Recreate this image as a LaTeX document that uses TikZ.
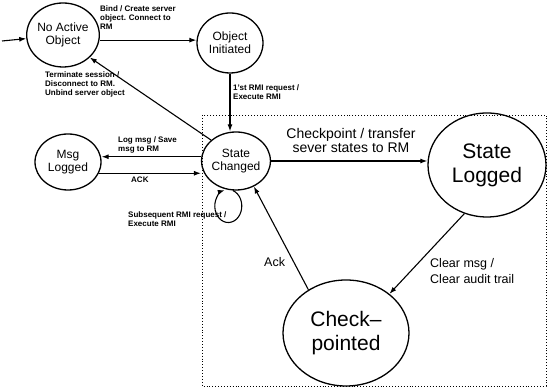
\documentclass[tikz,border=0pt]{standalone}
\usepackage{fontspec}
\setmainfont{Liberation Sans}
\usetikzlibrary{arrows.meta,shapes.geometric}

\tikzset{
  state/.style={draw, ellipse, line width=1.3pt, inner sep=0pt, align=center,
                font=\fontsize{12}{13}\selectfont},
  bigstate/.style={state, font=\fontsize{21}{24}\selectfont},
  arr/.style={line width=1.1pt, -{Latex[length=7pt,width=5pt]}},
  small/.style={inner sep=0pt, align=left,
                font=\bfseries\fontsize{8}{9}\selectfont},
  med/.style={inner sep=0pt, font=\fontsize{12.5}{16}\selectfont},
}

\begin{document}
\begin{tikzpicture}[x=1pt,y=1pt]
\useasboundingbox (0,0) rectangle (548,387);

% region of the checkpointing states
\draw[dotted, line width=0.9pt] (202,272) rectangle (546,1);

% states
\node[state, minimum width=68pt, minimum height=64pt] (nao) at (63,352) {No Active\\Object};
\node[state, minimum width=66pt, minimum height=60pt] (oi) at (230,344) {Object\\Initiated};
\node[state, minimum width=66pt, minimum height=56pt] (ml) at (68,225) {Msg\\Logged};
\node[state, minimum width=68pt, minimum height=58pt] (sc) at (236,226) {State\\Changed};
\node[bigstate, minimum width=118pt, minimum height=104pt] (sl) at (487,222) {State\\Logged};
\node[bigstate, minimum width=126pt, minimum height=106pt] (cp) at (346,54) {Check--\\pointed};

% transitions
\coordinate (start) at (2,346);
\draw[arr] (start) -- (nao);
\draw[arr] (nao.-8) -- (oi.west |- nao.-8);
\draw[arr] (oi.south) -- (oi.south |- sc.north);
\draw[arr] (sc.140) -- (nao.-40);
\draw[arr] (sc.173) -- (sc.173 -| ml.east);
\draw[arr] (ml.-20) -- (ml.-20 -| sc.west);
\draw[arr] (sc.east) -- (sc.east -| sl.west);
\draw[arr] (sl.-115) -- (cp.42);
\draw[arr] (cp.131) -- (sc.-55);
\draw[arr] (sc.-96) arc[start angle=70, end angle=-255, x radius=13.5, y radius=16.5];

% transition labels
\node[small, anchor=north west] (lbind) at (100,381) {Bind / Create server\\object. Connect to\\RM};
\node[small, anchor=north west] (lfirst) at (233,302) {1'st RMI request /\\Execute RMI};
\node[small, anchor=north west] (lterm) at (45,315) {Terminate session /\\Disconnect to RM.\\Unbind server object};
\node[small, anchor=north west] (llog) at (118,250) {Log msg / Save\\msg to RM};
\node[small, anchor=north west] (lack) at (131,210) {ACK};
\node[small, anchor=north west] (lsub) at (128,175) {Subsequent RMI request /\\Execute RMI};
\node[inner sep=0pt, align=center, anchor=north, font=\fontsize{14}{14.5}\selectfont] (lcheck) at (351,259) {Checkpoint / transfer\\sever states to RM};
\node[med, align=left, anchor=north west] (lclear) at (430,129) {Clear msg /\\Clear audit trail};
\node[med, anchor=north west] (lack2) at (264,130) {Ack};
\end{tikzpicture}
\end{document}
